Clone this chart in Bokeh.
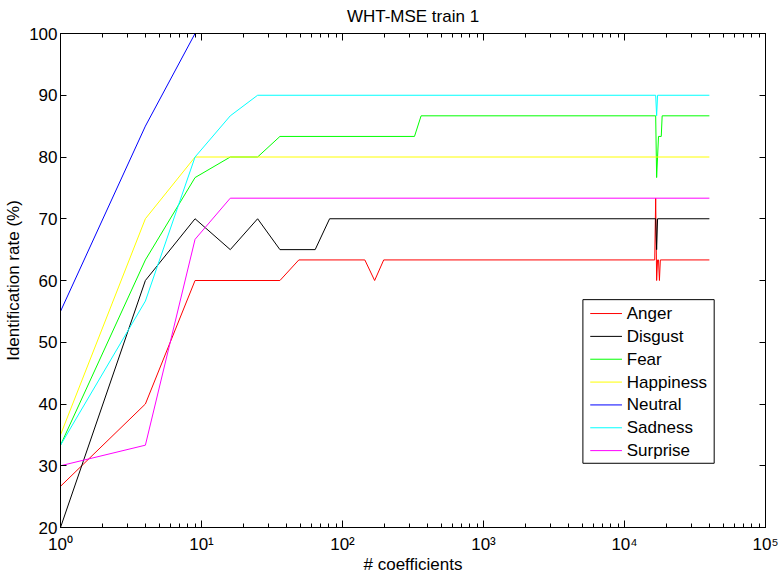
from bokeh.plotting import figure
from bokeh.models import FixedTicker, LogAxis, LinearAxis, BoxAnnotation
from bokeh.core.properties import value
from bokeh.embed import file_html
from bokeh.resources import INLINE

# Number of retained WHT coefficients (block sizes k*k) and identification rates (%)
anger_x = [1, 4, 9, 36, 49, 144, 169, 196, 16384, 16641, 16900, 17161, 17424, 17689, 17956, 40000]
anger_y = [26.67, 40, 60, 60, 63.33, 63.33, 60, 63.33, 63.33, 73.33, 60, 63.33, 63.33, 60, 63.33, 63.33]

disgust_x = [1, 4, 9, 16, 25, 36, 64, 81, 16641, 16900, 17161, 40000]
disgust_y = [20, 60, 70, 65, 70, 65, 65, 70, 70, 65, 70, 70]

fear_x = [1, 4, 9, 16, 25, 36, 324, 361, 16641, 16900, 17424, 18225, 18496, 40000]
fear_y = [33.33, 63.33, 76.67, 80, 80, 83.33, 83.33, 86.67, 86.67, 76.67, 83.33, 83.33, 86.67, 86.67]

happiness_x = [1, 4, 9, 40000]
happiness_y = [35, 70, 80, 80]

neutral_x = [1, 4, 9, 40000]
neutral_y = [55, 85, 100, 100]

sadness_x = [1, 4, 9, 16, 25, 16641, 16900, 17161, 40000]
sadness_y = [33.33, 56.67, 80, 86.67, 90, 90, 86.67, 90, 90]

surprise_x = [1, 4, 9, 16, 40000]
surprise_y = [30, 33.33, 66.67, 73.33, 73.33]

names = ["Anger", "Disgust", "Fear", "Happiness", "Neutral", "Sadness", "Surprise"]
colors = ["#ff0000", "#000000", "#00ff00", "#ffff00", "#0000ff", "#00ffff", "#ff00ff"]
xs_all = [anger_x, disgust_x, fear_x, happiness_x, neutral_x, sadness_x, surprise_x]
ys_all = [anger_y, disgust_y, fear_y, happiness_y, neutral_y, sadness_y, surprise_y]

x_major = [1, 10, 100, 1000, 10000, 100000]
x_minor = [m * d for d in [1, 10, 100, 1000, 10000] for m in range(2, 10)]
y_major = [20, 30, 40, 50, 60, 70, 80, 90, 100]
x_labels = {1: "10⁰", 10: "10¹", 100: "10²", 1000: "10³", 10000: "10⁴", 100000: "10⁵"}

FONT = "Liberation Sans"
FS = "17px"

p = figure(width=781, height=576, x_axis_type="log", x_range=(1, 1e5), y_range=(20, 100),
           output_backend="svg", toolbar_location=None)
p.min_border_left = 60
p.min_border_right = 16
p.min_border_top = 33
p.min_border_bottom = 48
p.background_fill_color = "white"
p.border_fill_color = "white"
p.outline_line_color = "black"
p.outline_line_width = 1
p.xgrid.visible = False
p.ygrid.visible = False
p.title.text = ""


def style_axis(ax, show_labels):
    ax.axis_line_color = "black"
    ax.axis_line_width = 1
    ax.major_tick_out = 0
    ax.minor_tick_out = 0
    ax.major_tick_line_color = "black"
    ax.minor_tick_line_color = "black"
    ax.major_label_text_font = FONT
    ax.major_label_text_color = "black"
    ax.axis_label_text_font = FONT
    ax.axis_label_text_font_size = FS
    ax.axis_label_text_font_style = "normal"
    ax.axis_label_text_color = "black"
    if show_labels:
        ax.major_label_text_font_size = FS
    else:
        # mirrored tick marks only: labels kept tiny and transparent
        ax.major_label_text_font_size = "1px"
        ax.major_label_text_alpha = 0
        ax.major_label_standoff = 0


xa = p.xaxis[0]
xa.ticker = FixedTicker(ticks=x_major, minor_ticks=x_minor)
style_axis(xa, True)
xa.major_tick_in = 7
xa.minor_tick_in = 4
xa.major_label_overrides = x_labels
xa.major_label_standoff = 7
xa.axis_label = "# coefficients"
xa.axis_label_standoff = -2

ya = p.yaxis[0]
ya.ticker = FixedTicker(ticks=y_major, minor_ticks=[])
style_axis(ya, True)
ya.major_tick_in = 6
ya.minor_tick_in = 0
ya.major_label_standoff = 3
ya.axis_label = "Identification rate (%)"
ya.axis_label_standoff = 3

# Top edge: mirrored ticks, with the chart title set as this axis's label
top = LogAxis(ticker=FixedTicker(ticks=x_major, minor_ticks=x_minor))
style_axis(top, False)
top.major_tick_in = 7
top.minor_tick_in = 4
top.axis_label = "WHT-MSE train 1"
top.axis_label_standoff = 8
p.add_layout(top, "above")

right = LinearAxis(ticker=FixedTicker(ticks=y_major, minor_ticks=[]))
style_axis(right, False)
right.major_tick_in = 6
right.minor_tick_in = 0
p.add_layout(right, "right")

for xs, ys, color in zip(xs_all, ys_all, colors):
    p.line(xs, ys, line_color=color, line_width=1)

# Legend box in the lower right of the axes, drawn in axis units
leg_left, leg_right = 10 ** 3.705, 10 ** 4.636
leg_top, leg_bottom = 56.9, 30.4
p.add_layout(BoxAnnotation(left=leg_left, right=leg_right, top=leg_top, bottom=leg_bottom,
                           fill_color="white", fill_alpha=1.0,
                           line_color="black", line_width=1, line_alpha=1.0))

row_y = [54.65 - 3.70 * i for i in range(len(names))]
sample_x0, sample_x1 = 10 ** 3.757, 10 ** 3.982
label_x = 10 ** 4.016
p.segment(x0=[sample_x0] * len(names), y0=row_y, x1=[sample_x1] * len(names), y1=row_y,
          line_color=colors, line_width=1, level="overlay")
p.text(x=[label_x] * len(names), y=row_y, text=names,
       text_font=value(FONT), text_font_size=value(FS), text_color="black",
       text_align="left", text_baseline="middle", level="overlay")

open("out.html", "w").write(file_html(p, INLINE))
